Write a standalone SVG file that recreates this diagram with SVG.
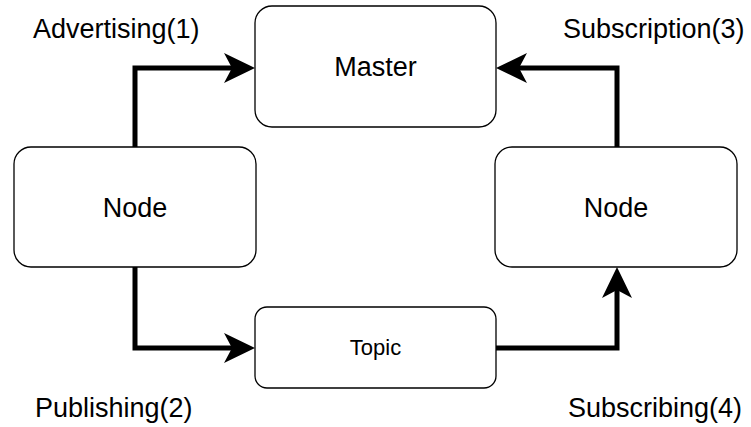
<svg xmlns="http://www.w3.org/2000/svg" width="751" height="427" viewBox="0 0 751 427">
  <style>
    .box { fill: #ffffff; stroke: #000000; stroke-width: 1.3; }
    .lbl { font-family: "Liberation Sans", Arial, Helvetica, sans-serif; fill: #000000; }
    .big { font-size: 27px; }
    .mid { font-size: 27px; text-anchor: middle; }
    .small { font-size: 22px; text-anchor: middle; }
    .conn { fill: none; stroke: #000000; stroke-width: 5; stroke-linejoin: miter; marker-end: url(#arrow); }
  </style>
  <defs>
    <marker id="arrow" viewBox="0 0 31 30" refX="16" refY="15" markerWidth="31" markerHeight="30" markerUnits="userSpaceOnUse" orient="auto">
      <path d="M31,15 L0,0 L8,15 L0,30 Z" fill="#000000"/>
    </marker>
  </defs>
  <rect width="751" height="427" fill="#ffffff"/>

  <g id="connectors">
    <path class="conn" d="M135,147 V68 H240"/>
    <path class="conn" d="M135,267 V348 H240"/>
    <path class="conn" d="M496,348 H617 V282"/>
    <path class="conn" d="M617,147 V68 H511"/>
  </g>

  <g id="master">
    <rect class="box" x="255" y="6" width="241" height="121" rx="17" ry="17"/>
    <text class="lbl mid" x="375.5" y="76">Master</text>
  </g>
  <g id="node-left">
    <rect class="box" x="14" y="147" width="242" height="120" rx="17" ry="17"/>
    <text class="lbl mid" x="135" y="217">Node</text>
  </g>
  <g id="node-right">
    <rect class="box" x="495" y="147" width="242" height="120" rx="17" ry="17"/>
    <text class="lbl mid" x="616" y="217">Node</text>
  </g>
  <g id="topic">
    <rect class="box" x="255" y="307" width="241" height="81" rx="12" ry="12"/>
    <text class="lbl small" x="375.5" y="355">Topic</text>
  </g>

  <g id="labels">
    <text class="lbl big" x="33" y="38">Advertising(1)</text>
    <text class="lbl big" x="563" y="38">Subscription(3)</text>
    <text class="lbl big" x="35" y="417">Publishing(2)</text>
    <text class="lbl big" x="568" y="417">Subscribing(4)</text>
  </g>
</svg>
